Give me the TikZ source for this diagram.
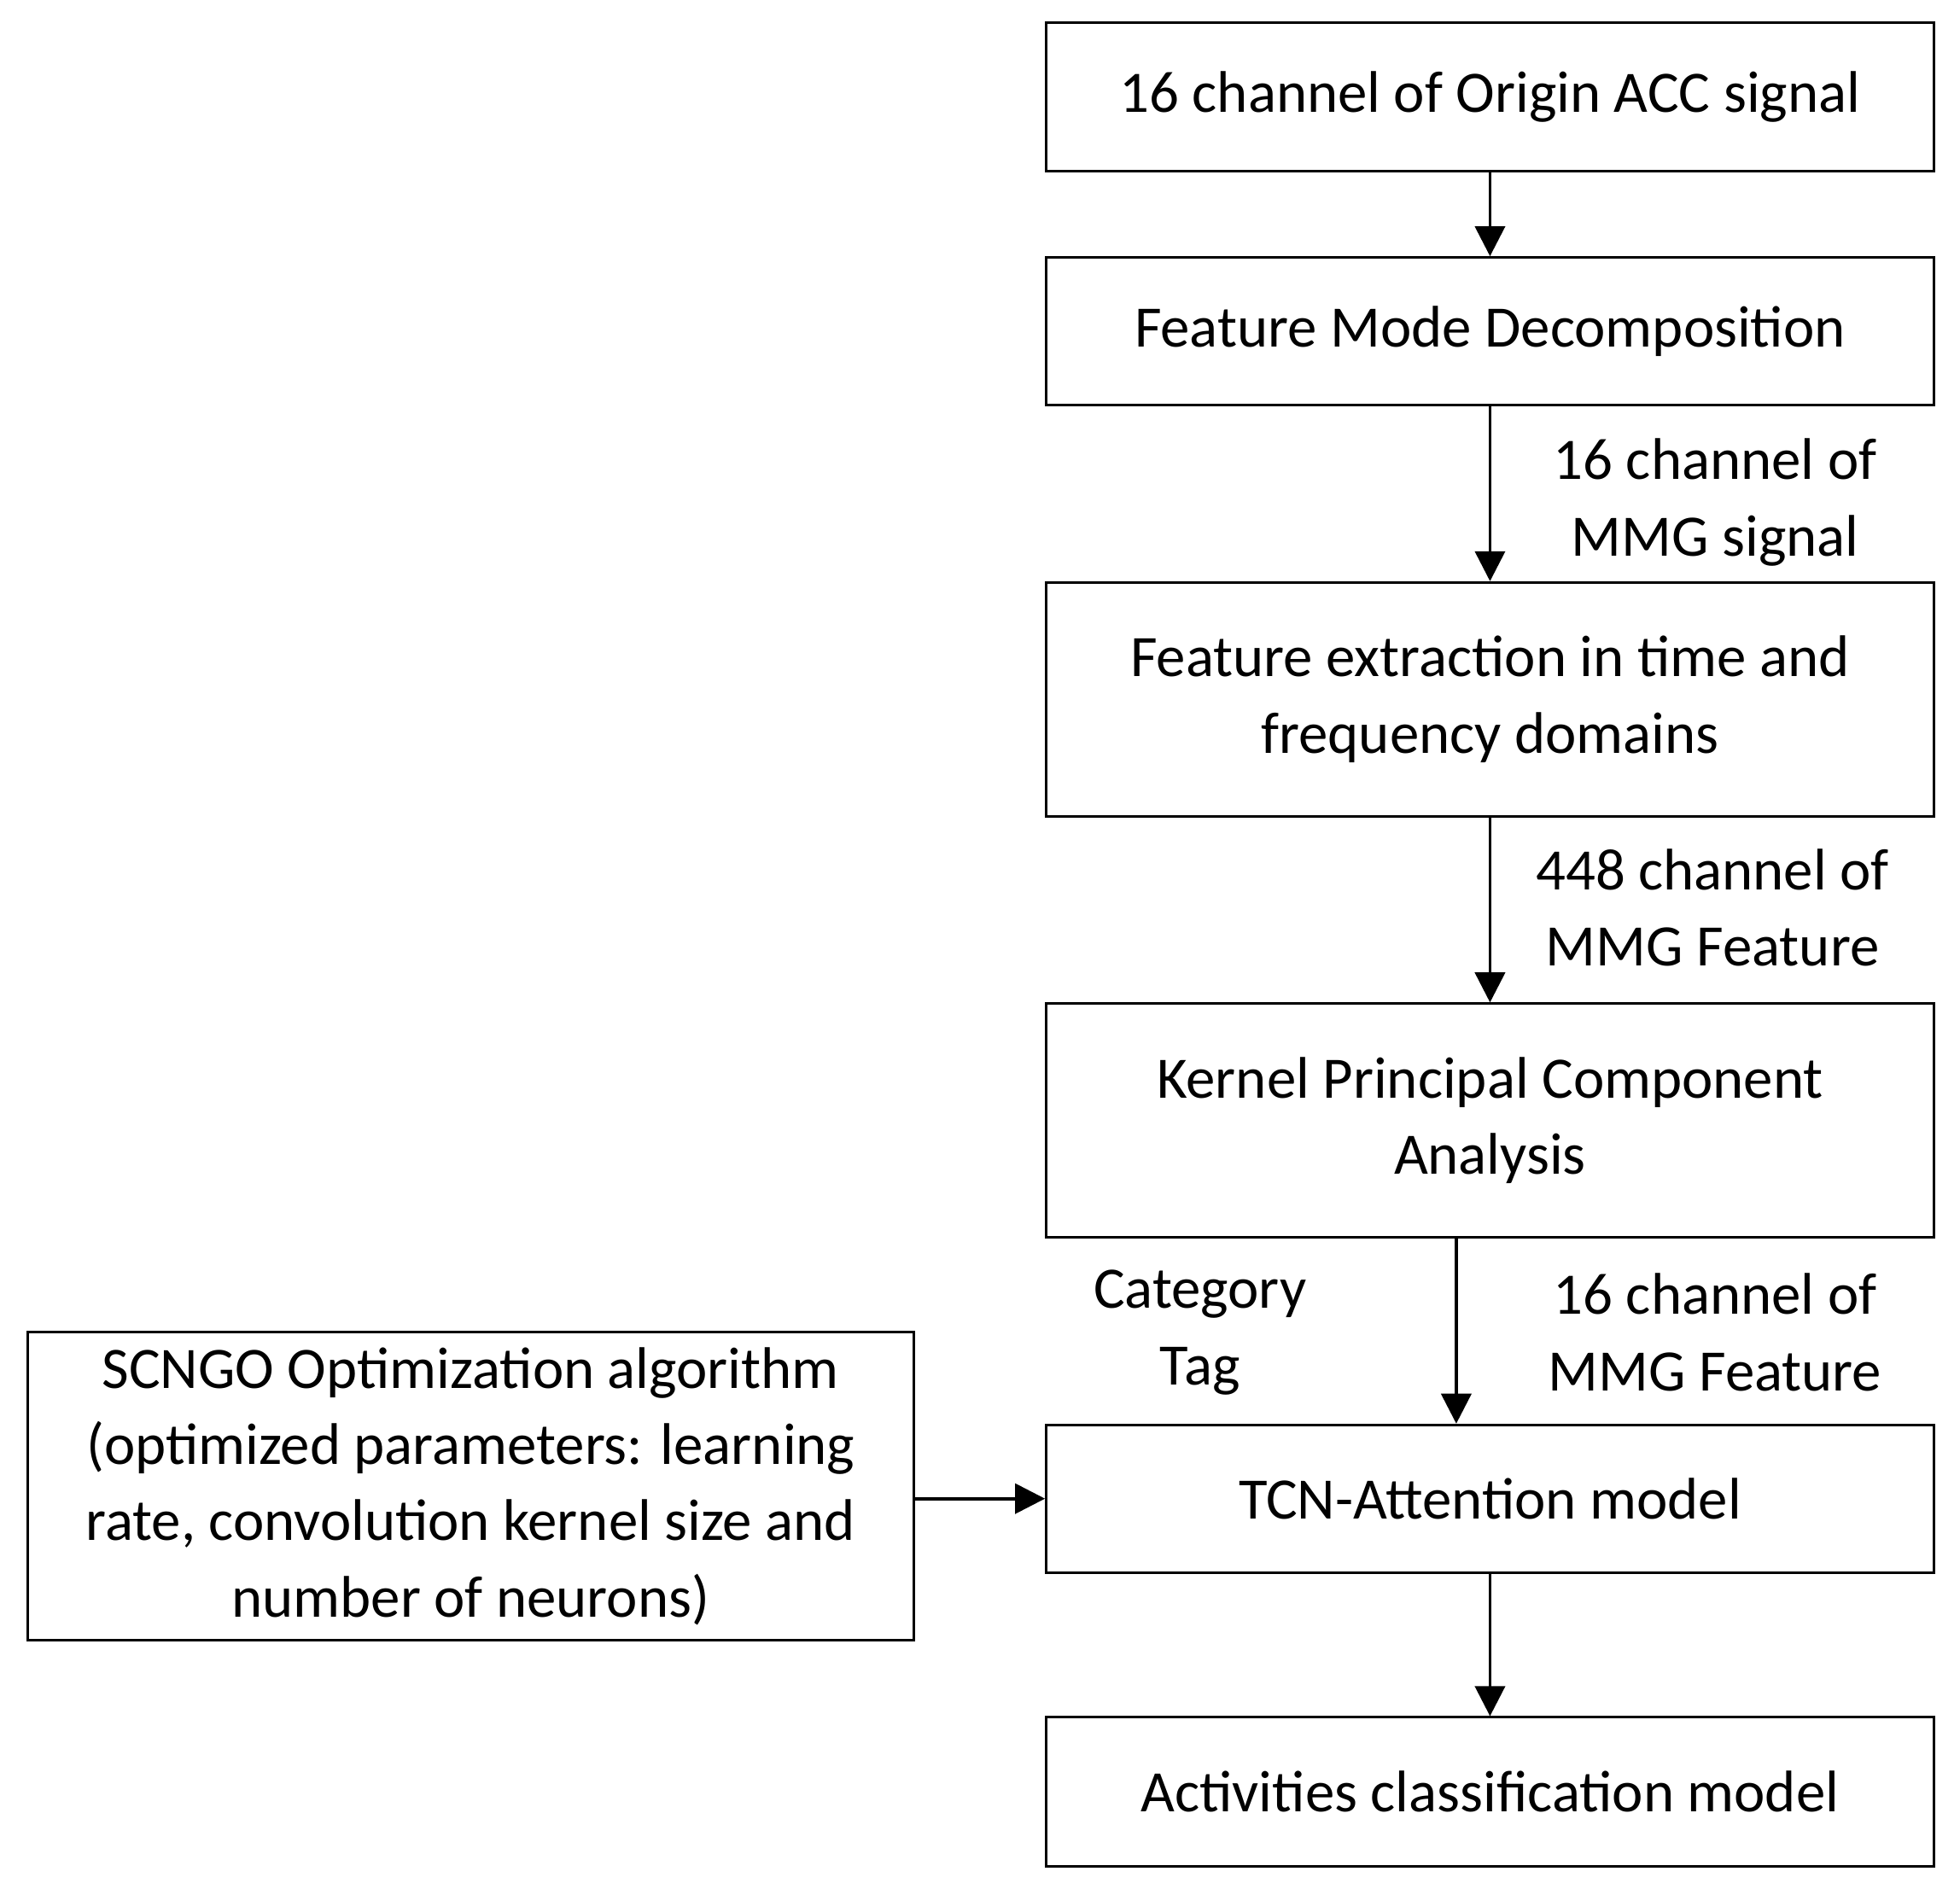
\documentclass[tikz,border=0pt]{standalone}
\usepackage{fontspec}
\setmainfont{Carlito}
\usetikzlibrary{arrows.meta}
\begin{document}
\begin{tikzpicture}[x=1pt,y=-1pt,
  box/.style={draw,line width=2pt,align=center,inner sep=0pt,font=\fontsize{47}{61}\selectfont},
  lab/.style={align=center,inner sep=0pt,font=\fontsize{47}{61}\selectfont},
  arr/.style={line width=2.5pt,-{Triangle[length=24pt,width=24pt]}}]
\useasboundingbox (0,0) rectangle (1568,1511);
\node[box,minimum width=710pt,minimum height=119pt] (b1) at (1192,77.5) {16 channel of Origin ACC signal};
\node[box,minimum width=710pt,minimum height=118pt] (b2) at (1192,265) {Feature Mode Decomposition};
\node[box,minimum width=710pt,minimum height=187pt] (b3) at (1192,559.5) {Feature extraction in time and\\frequency domains};
\node[box,minimum width=710pt,minimum height=187pt] (b4) at (1192,896.5) {Kernel Principal Component\\Analysis};
\node[box,minimum width=710pt,minimum height=118pt] (b5) at (1192,1199) {TCN-Attention model};
\node[box,minimum width=710pt,minimum height=119pt] (b6) at (1192,1433.5) {Activities classification model};
\node[box,minimum width=709pt,minimum height=246pt] (l) at (376.5,1189) {SCNGO Optimization algorithm\\(optimized parameters: learning\\rate, convolution kernel size and\\number of neurons)};
\draw[arr] (b1) -- (b2);
\draw[arr] (b2) -- (b3);
\draw[arr] (b3) -- (b4);
\draw[arr] (b4.south -| 1165,0) -- (b5.north -| 1165,0);
\draw[arr] (b5) -- (b6);
\draw[arr] (l.east |- b5.west) -- (b5.west);
\node[lab] (t1) at (1372,402) {16 channel of\\MMG signal};
\node[lab] (t2) at (1370,726) {448 channel of\\MMG Feature};
\node[lab] (t3) at (960,1066) {Category\\Tag};
\node[lab] (t4) at (1372,1066) {16 channel of\\MMG Feature};
\end{tikzpicture}
\end{document}
